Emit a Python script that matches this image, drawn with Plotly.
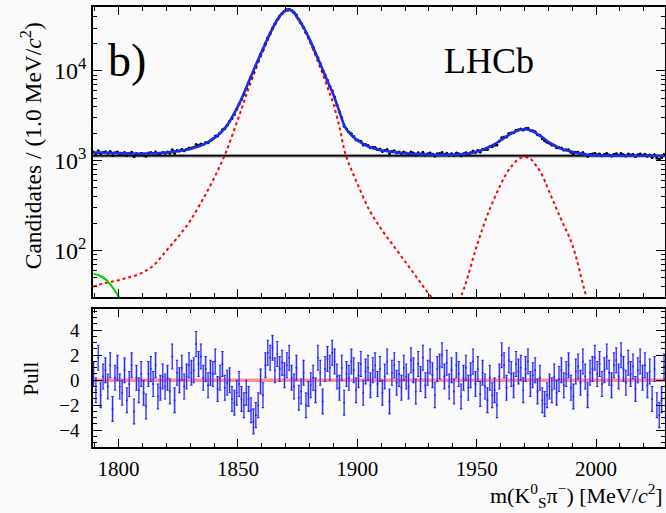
import plotly.graph_objects as go

# ---------------- data ----------------
BIN_START = 1789.5          # centre of first 1 MeV bin
N_BINS = 240

# observed candidates per 1.0 MeV/c^2 bin
counts = [
    1252, 1208, 1298, 1193, 1245, 1259, 1212, 1270, 1144, 1230,
    1256, 1200, 1180, 1240, 1154, 1197, 1246, 1115, 1208, 1172,
    1218, 1164, 1128, 1221, 1236, 1200, 1257, 1174, 1204, 1242,
    1219, 1251, 1219, 1326, 1211, 1300, 1288, 1336, 1296, 1341,
    1391, 1387, 1417, 1521, 1489, 1543, 1523, 1596, 1594, 1689,
    1765, 1888, 1891, 2044, 2223, 2281, 2490, 2750, 2962, 3285,
    3743, 4285, 4810, 5490, 6429, 7420, 8506, 9739, 11338, 13119,
    15318, 17431, 20320, 23475, 26491, 30168, 33406, 37193, 40872, 43601,
    46226, 48102, 48435, 47183, 44834, 41844, 37368, 33974, 30745, 26811,
    23870, 21032, 18347, 15839, 14001, 12016, 10167, 9025, 7890, 6782,
    6018, 5126, 4160, 3503, 3017, 2424, 2272, 2089, 2007, 1867,
    1715, 1679, 1649, 1501, 1516, 1483, 1397, 1416, 1407, 1332,
    1353, 1272, 1306, 1336, 1209, 1280, 1292, 1234, 1251, 1205,
    1254, 1223, 1190, 1257, 1225, 1161, 1233, 1187, 1243, 1163,
    1198, 1226, 1187, 1131, 1202, 1208, 1238, 1180, 1218, 1155,
    1203, 1146, 1220, 1199, 1141, 1197, 1232, 1186, 1232, 1284,
    1241, 1304, 1254, 1344, 1338, 1335, 1444, 1431, 1495, 1502,
    1662, 1806, 1846, 1844, 2016, 2037, 2057, 2190, 2213, 2267,
    2206, 2295, 2305, 2180, 2163, 2110, 1954, 1923, 1766, 1674,
    1614, 1568, 1497, 1490, 1397, 1402, 1393, 1320, 1328, 1331,
    1246, 1201, 1250, 1247, 1189, 1237, 1186, 1128, 1183, 1190,
    1216, 1170, 1195, 1139, 1175, 1211, 1165, 1130, 1184, 1197,
    1152, 1210, 1173, 1135, 1190, 1159, 1179, 1118, 1169, 1193,
    1148, 1182, 1127, 1165, 1090, 1172, 1073, 1045, 1087, 1179,
]

# pulls per bin
pulls = [
    0.5, -0.8, 1.8, -1.2, 0.3, 0.8, -0.5, 1.2, -2.3, 0.2,
    1.0, -0.5, -1.0, 0.8, -1.6, -0.3, 1.2, -2.5, 0.2, -0.8,
    0.5, -1.0, -2.1, 0.5, 0.9, -0.3, 1.2, -1.3, -0.6, 0.3,
    -0.5, 0.2, -0.9, 1.9, -1.6, 0.6, 0.0, 1.0, -0.5, 0.3,
    1.2, 0.6, 0.8, 2.9, 1.3, 1.9, 0.2, 0.9, -0.4, 0.6,
    0.5, 1.5, -0.7, 0.2, 1.3, -0.6, -0.2, 0.0, -1.5, -1.8,
    -1.0, -0.3, -1.5, -2.0, -1.0, -1.5, -2.4, -3.3, -2.8, -2.0,
    -0.1, -1.2, 1.2, 2.2, 1.8, 2.6, 0.8, 2.1, 0.9, 1.4,
    0.4, 1.2, 1.8, 0.2, -0.5, 1.0, -1.4, -0.9, 0.6, -2.0,
    -1.1, -0.4, 0.2, -0.8, 1.8, 0.6, -1.7, 0.9, 1.7, 1.0,
    2.2, 1.5, 0.3, -0.6, 1.0, -1.8, 0.5, 0.2, 1.5, 0.8,
    -0.8, 0.4, 1.3, -1.0, 0.7, 1.0, -0.4, 0.8, 1.2, -0.3,
    0.9, -1.0, 0.3, 1.5, -1.7, 0.6, 1.2, -0.2, 0.5, -0.6,
    1.0, 0.3, -0.5, 1.6, 0.8, -0.9, 1.3, 0.1, 1.8, -0.4,
    0.6, 1.5, 0.4, -1.2, 0.9, 1.1, 2.0, 0.3, 1.4, -0.5,
    0.8, -0.9, 1.2, 0.5, -1.3, 0.2, 1.0, -0.6, 0.4, 1.5,
    -0.3, 0.9, -1.1, 0.6, -0.5, -1.6, 0.2, -1.2, -0.8, -2.0,
    0.3, 2.0, 1.2, -0.6, 1.6, 0.5, -0.4, 1.3, 0.7, 1.0,
    -0.8, 0.9, 1.5, -0.3, 0.4, 0.8, -0.9, 0.2, -1.6, -1.9,
    -1.2, -0.5, -0.8, 0.3, -1.0, 0.1, 0.8, -0.4, 0.5, 1.2,
    -0.6, -1.3, 0.7, 1.1, -0.2, 1.5, 0.3, -1.2, 0.6, 0.9,
    1.8, 0.5, 1.3, -0.3, 0.8, 1.9, 0.6, -0.4, 1.2, 1.6,
    0.3, 2.0, 0.9, -0.2, 1.4, 0.5, 1.1, -0.7, 0.8, 1.5,
    0.2, 1.2, -0.4, 0.7, -1.5, 0.9, -2.0, -2.8, -1.6, 1.1,
]

# fit components read at knot masses
knot_mass = [1789.5, 1792, 1795, 1797.5, 1800, 1802.5, 1805, 1810, 1815, 1820,
             1825, 1830, 1835, 1840, 1845, 1850, 1852.5, 1855, 1857.5, 1860,
             1862.5, 1865, 1867.5, 1870, 1872.5, 1875, 1877.5, 1880, 1882.5, 1885,
             1887.5, 1890, 1892.5, 1895, 1897.5, 1900, 1905, 1910, 1915, 1920,
             1925, 1930, 1935, 1940, 1945, 1950, 1955, 1960, 1962.5, 1965,
             1967.5, 1970, 1972.5, 1975, 1977.5, 1980, 1985, 1990, 1995, 2000,
             2010, 2020, 2028.5]
dplus_sig = [40, 42, 44, 45.5, 47, 49, 51, 57, 70, 100,
             143, 215, 360, 640, 1250, 2900, 4500, 7000, 10500, 15300,
             22000, 30500, 39500, 46300, 46000, 38000, 29500, 21500, 14800, 10000,
             6600, 4300, 2400, 1200, 800, 560, 285, 175, 115, 76,
             50, 33, 23, 16, 11, 8, 6, 5, 4.6, 4.3,
             4, 3.8, 3.6, 3.4, 3.2, 3, 2.7, 2.4, 2.2, 2,
             1.6, 1.3, 1.1]
ds_sig = [0, 0, 0, 0, 0, 0, 0, 0, 0, 0,
          0, 0, 0, 0, 0, 0, 0, 0, 0, 0,
          0, 0, 0, 0, 0, 0, 0, 0, 0, 0,
          0, 0, 0, 0, 0, 0, 0, 0, 0, 0,
          0, 3, 7, 18, 40, 112, 270, 540, 725, 900,
          1040, 1105, 1050, 880, 690, 480, 235, 118, 38, 12,
          1, 0, 0]
refl_bkg = [55, 53, 47, 39, 31, 23, 15, 5, 1, 0,
            0, 0, 0, 0, 0, 0, 0, 0, 0, 0,
            0, 0, 0, 0, 0, 0, 0, 0, 0, 0,
            0, 0, 0, 0, 0, 0, 0, 0, 0, 0,
            0, 0, 0, 0, 0, 0, 0, 0, 0, 0,
            0, 0, 0, 0, 0, 0, 0, 0, 0, 0,
            0, 0, 0]
comb_bkg_level = 1140

x_ticks = [1800, 1850, 1900, 1950, 2000]
y_ticks = [100, 1000, 10000]
y_ticktext = ["10<sup>2</sup>", "10<sup>3</sup>", "10<sup>4</sup>"]
pull_ticks = [-4, -2, 0, 2, 4]

# ---------------- derived ----------------
bins = [BIN_START + i for i in range(N_BINS)]
errs = [c ** 0.5 for c in counts]
total = [comb_bkg_level + a + b + c for a, b, c in zip(dplus_sig, ds_sig, refl_bkg)]


def visible(vals, floor=8):
    return [v if v >= floor else None for v in vals]


FONT = "Liberation Serif, Times New Roman, serif"
BG = "#fafafa"
XR = [1789.3, 2028.9]

fig = go.Figure()

# combinatorial background (grey band + black line)
fig.add_trace(go.Scatter(x=[XR[0], XR[1]], y=[comb_bkg_level, comb_bkg_level], mode="lines",
                         line=dict(color="rgb(150,150,150)", width=3.5), xaxis="x", yaxis="y",
                         hoverinfo="skip", showlegend=False))
fig.add_trace(go.Scatter(x=[XR[0], XR[1]], y=[comb_bkg_level, comb_bkg_level], mode="lines",
                         line=dict(color="black", width=1.4), xaxis="x", yaxis="y",
                         showlegend=False))
# signal shapes
fig.add_trace(go.Scatter(x=knot_mass, y=visible(dplus_sig), mode="lines", line_shape="spline",
                         line=dict(color="red", width=2, dash="dot"), xaxis="x", yaxis="y",
                         showlegend=False))
fig.add_trace(go.Scatter(x=knot_mass, y=visible(ds_sig), mode="lines", line_shape="spline",
                         line=dict(color="red", width=2, dash="dot"), xaxis="x", yaxis="y",
                         showlegend=False))
fig.add_trace(go.Scatter(x=knot_mass, y=visible(refl_bkg, 4), mode="lines", line_shape="spline",
                         line=dict(color="rgb(0,210,0)", width=2), xaxis="x", yaxis="y",
                         showlegend=False))
# data
fig.add_trace(go.Scatter(x=bins, y=counts, mode="markers",
                         marker=dict(color="black", size=3),
                         error_y=dict(type="data", array=errs, color="black", thickness=1, width=0),
                         error_x=dict(type="constant", value=0.5, color="black", thickness=1, width=0),
                         xaxis="x", yaxis="y", showlegend=False))
# total fit
fig.add_trace(go.Scatter(x=knot_mass, y=total, mode="lines", line_shape="spline",
                         line=dict(color="rgb(25,45,235)", width=2.6), xaxis="x", yaxis="y",
                         showlegend=False))

# pull panel
fig.add_trace(go.Bar(x=bins, y=[2] * N_BINS, base=[p - 1 for p in pulls], width=1.0,
                     marker=dict(color="rgba(90,90,255,0.28)", line=dict(width=0)),
                     xaxis="x2", yaxis="y2", showlegend=False, hoverinfo="skip"))
fig.add_trace(go.Scatter(x=[XR[0], XR[1]], y=[0, 0], mode="lines",
                         line=dict(color="rgba(255,70,70,0.6)", width=3.5), xaxis="x2", yaxis="y2",
                         showlegend=False))
fig.add_trace(go.Scatter(x=bins, y=pulls, mode="markers",
                         marker=dict(color="rgb(40,40,255)", size=2),
                         error_y=dict(type="constant", value=1, color="rgb(40,40,255)", thickness=1.1, width=1.2),
                         xaxis="x2", yaxis="y2", showlegend=False))

axis_common = dict(showline=True, linecolor="black", linewidth=1.5, mirror="ticks",
                   ticks="inside", tickcolor="black", showgrid=False, zeroline=False,
                   automargin=False,
                   tickfont=dict(family=FONT, size=21, color="black"))

fig.update_layout(
    width=666, height=513,
    margin=dict(l=93, r=1, t=7, b=66),
    paper_bgcolor=BG, plot_bgcolor=BG,
    bargap=0,
    xaxis=dict(axis_common, domain=[0, 1], range=XR, anchor="y", tickvals=x_ticks,
               ticklen=8, showticklabels=False,
               minor=dict(ticks="inside", dtick=10, tick0=1800, ticklen=4, tickcolor="black")),
    yaxis=dict(axis_common, domain=[0.3409, 1], type="log", range=[1.485, 4.712], anchor="x",
               tickvals=y_ticks, ticktext=y_ticktext, ticklen=9,
               tickfont=dict(family=FONT, size=24, color="black"),
               minor=dict(ticks="inside", ticklen=4.5, tickcolor="black", tickmode="array",
                          tickvals=[40, 50, 60, 70, 80, 90, 200, 300, 400, 500, 600, 700, 800, 900,
                                    2000, 3000, 4000, 5000, 6000, 7000, 8000, 9000, 20000, 30000, 40000])),
    xaxis2=dict(axis_common, domain=[0, 1], range=XR, anchor="y2", tickvals=x_ticks,
                ticklen=8, ticklabelstandoff=2,
                minor=dict(ticks="inside", dtick=10, tick0=1800, ticklen=4, tickcolor="black")),
    yaxis2=dict(axis_common, domain=[0, 0.3136], range=[-5.35, 5.7], anchor="x2",
                tickvals=pull_ticks, ticklen=9, ticklabelstandoff=8,
                tickfont=dict(family=FONT, size=19, color="black"),
                minor=dict(ticks="inside", dtick=0.5, tick0=0, ticklen=4.5, tickcolor="black")),
    annotations=[
        dict(text="Candidates / (1.0 MeV/<i>c</i><sup>2</sup>)", xref="paper", yref="paper",
             x=-0.108, y=0.684, xanchor="center", yanchor="middle", textangle=-90, showarrow=False,
             font=dict(family=FONT, size=23.5, color="black")),
        dict(text="Pull", xref="paper", yref="paper", x=-0.108, y=0.156,
             xanchor="center", yanchor="middle", textangle=-90,
             showarrow=False, font=dict(family=FONT, size=21, color="black")),
        dict(text="m(K<sup>0</sup><sub>S</sub>π<sup>−</sup>) [MeV/<i>c</i><sup>2</sup>]",
             xref="paper", yref="paper", x=1.0, y=-0.110, xanchor="right", yanchor="middle",
             showarrow=False, font=dict(family=FONT, size=22, color="black")),
        dict(text="b)", xref="paper", yref="paper", x=0.0594, y=0.8795,
             xanchor="center", yanchor="middle", showarrow=False,
             font=dict(family=FONT, size=46, color="black")),
        dict(text="LHCb", xref="paper", yref="paper", x=0.692, y=0.877,
             xanchor="center", yanchor="middle", showarrow=False,
             font=dict(family=FONT, size=36, color="black")),
    ],
)

fig.write_html("out.html")
